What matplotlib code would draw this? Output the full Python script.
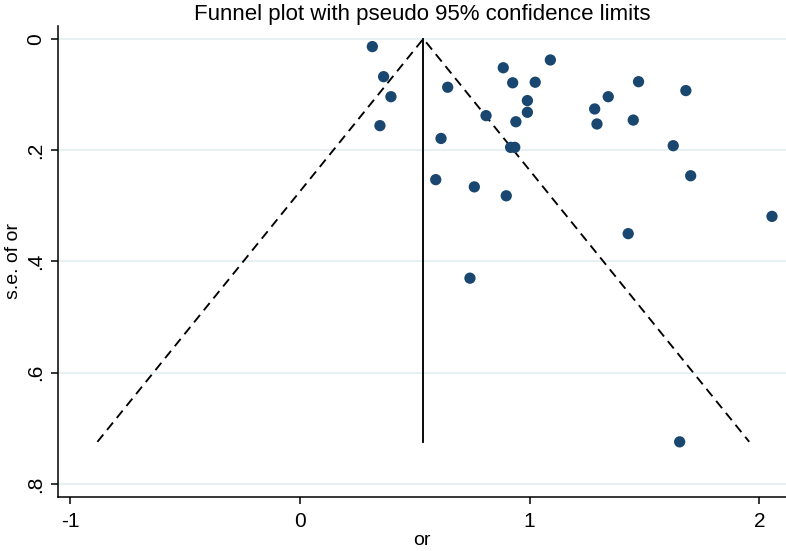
import numpy as np
import matplotlib
matplotlib.use("Agg")
import matplotlib.pyplot as plt

plt.rcParams['font.family'] = ['Liberation Sans', 'DejaVu Sans']
plt.rcParams['axes.unicode_minus'] = False

# study estimates (or) and their standard errors
or_vals = [0.315, 0.364, 0.396, 0.348, 0.643, 0.885, 0.926, 1.024, 1.090,
           0.990, 0.990, 0.940, 0.810, 0.614, 0.917, 0.935, 1.283, 1.293,
           1.342, 1.474, 1.451, 1.680, 1.625, 1.701, 2.055, 1.429, 0.591,
           0.759, 0.898, 0.740, 1.653]
se_vals = [0.014, 0.068, 0.104, 0.156, 0.087, 0.052, 0.079, 0.078, 0.038,
           0.111, 0.132, 0.149, 0.138, 0.179, 0.195, 0.195, 0.126, 0.153,
           0.104, 0.077, 0.146, 0.093, 0.192, 0.246, 0.319, 0.350, 0.253,
           0.266, 0.282, 0.430, 0.724]

pooled = 0.537      # fixed-effect estimate (vertical line)
se_max = 0.724      # bottom of the funnel

xticks = [-1, 0, 1, 2]
yticks = [0, 0.2, 0.4, 0.6, 0.8]
yticklabels = ['0', '.2', '.4', '.6', '.8']

fig = plt.figure(figsize=(7.86, 5.51), dpi=100)
ax = fig.add_axes([0.0734, 0.0986, 0.9266, 0.8542])

navy = '#1a476f'
grid_col = '#e3eff1'

for yt in yticks:
    ax.axhline(yt, color=grid_col, lw=1.2, zorder=0)

# pseudo 95% limits
ax.plot([pooled - 1.96 * se_max, pooled, pooled + 1.96 * se_max],
        [se_max, 0, se_max], color='black', ls=(0, (5, 3.2)), lw=1.35,
        zorder=2)
ax.plot([pooled, pooled], [0, se_max], color='black', lw=1.35, zorder=2)

ax.scatter(or_vals, se_vals, s=66, color=navy, edgecolors='none', zorder=3)

ax.set_xlim(-1.055, 2.116)
ax.set_ylim(0.8225, -0.023)
ax.set_xticks(xticks)
ax.set_xticklabels([str(t) for t in xticks])
ax.set_yticks(yticks)
ax.set_yticklabels(yticklabels, rotation=90, va='center')

for s in ['top', 'right']:
    ax.spines[s].set_visible(False)
for s in ['left', 'bottom']:
    ax.spines[s].set_linewidth(1.1)
ax.tick_params(length=5, width=1.1, labelsize=15)
ax.tick_params(axis='x', pad=6)
ax.tick_params(axis='y', pad=4)

ax.set_xlabel('or', fontsize=14, labelpad=1)
ax.set_ylabel('s.e. of or', fontsize=14, labelpad=3)
ax.set_title('Funnel plot with pseudo 95% confidence limits', fontsize=16,
             pad=4)

fig.savefig('out.png', dpi=100)
